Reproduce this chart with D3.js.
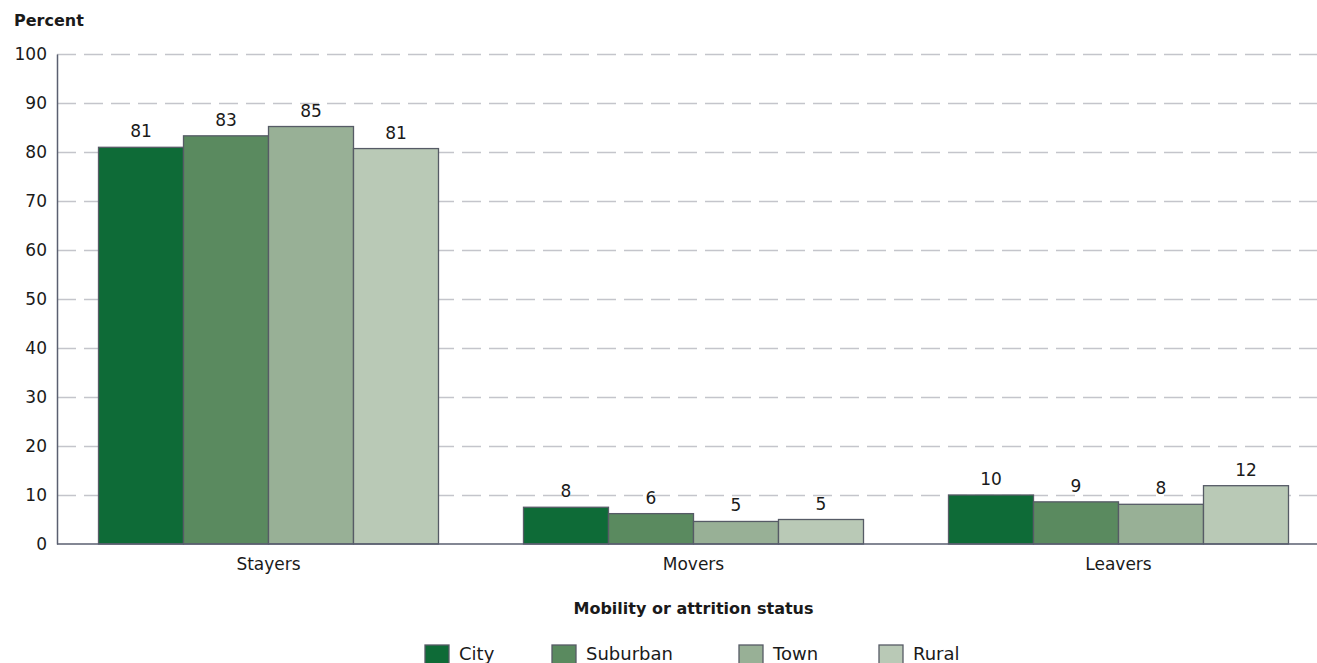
<!DOCTYPE html>
<html>
<head>
<meta charset="utf-8">
<script src="https://cdn.jsdelivr.net/npm/d3@7"></script>
<style>
  body { margin: 0; background: #fff; }
  svg text { font-family: "DejaVu Sans", "Noto Sans", sans-serif; fill: #1a1a1a; }
</style>
</head>
<body>
<div id="chart"></div>
<script>
// categories and series
const statuses = ["Stayers", "Movers", "Leavers"];
const locales = ["City", "Suburban", "Town", "Rural"];
const city = [80.96, 7.5, 10.0];
const suburban = [83.3, 6.2, 8.6];
const town = [85.2, 4.6, 8.1];
const rural = [80.7, 5.0, 11.9];
const labels = [[81, 83, 85, 81], [8, 6, 5, 5], [10, 9, 8, 12]];
const yTicks = [0, 10, 20, 30, 40, 50, 60, 70, 80, 90, 100];

const colors = ["#0e6b37", "#5a8a5f", "#98b096", "#b9c9b6"];
const seriesVals = [city, suburban, town, rural];

const svgWidth = 1317, svgHeight = 663;
const margin = { top: 54, left: 57, bottom: 119 };

const svg = d3.select("#chart").append("svg")
    .attr("width", svgWidth)
    .attr("height", svgHeight);

const x = d3.scaleBand()
    .domain(statuses)
    .range([margin.left - 1, margin.left - 1 + 425 * 3])
    .paddingInner(0.2)
    .paddingOuter(0.1);

const xInner = d3.scaleBand()
    .domain(locales)
    .range([0, x.bandwidth()]);

const y = d3.scaleLinear()
    .domain([0, 100])
    .range([svgHeight - margin.bottom, margin.top]);

// grid lines
svg.append("g")
    .selectAll("line")
    .data(yTicks.filter(d => d > 0))
    .join("line")
    .attr("x1", margin.left)
    .attr("x2", svgWidth)
    .attr("y1", d => Math.round(y(d)) + 0.5)
    .attr("y2", d => Math.round(y(d)) + 0.5)
    .attr("stroke", "#c4c5cb")
    .attr("stroke-width", 1.3)
    .attr("stroke-dasharray", "19,8");

// y axis
const yAxis = svg.append("g")
    .attr("transform", `translate(${margin.left},0)`)
    .call(d3.axisLeft(y).tickValues(yTicks).tickSize(0).tickPadding(10));
yAxis.select(".domain").attr("stroke", "#5a5f70").attr("stroke-width", 1.5);
yAxis.selectAll("text")
    .attr("font-size", 17)
    .attr("font-family", "DejaVu Sans, sans-serif")
    .attr("fill", "#1a1a1a");

// bars
const groups = svg.append("g")
    .selectAll("g")
    .data(statuses)
    .join("g")
    .attr("transform", d => `translate(${x(d)},0)`);

groups.selectAll("rect")
    .data((d, i) => locales.map((l, j) => ({ locale: l, value: seriesVals[j][i], label: labels[i][j], color: colors[j] })))
    .join("rect")
    .attr("x", d => xInner(d.locale))
    .attr("y", d => y(d.value))
    .attr("width", xInner.bandwidth())
    .attr("height", d => y(0) - y(d.value))
    .attr("fill", d => d.color)
    .attr("stroke", "#565b66")
    .attr("stroke-width", 1.3);

groups.selectAll("text.val")
    .data((d, i) => locales.map((l, j) => ({ locale: l, value: seriesVals[j][i], label: labels[i][j] })))
    .join("text")
    .attr("class", "val")
    .attr("x", d => xInner(d.locale) + xInner.bandwidth() / 2)
    .attr("y", d => y(d.value) - 10)
    .attr("text-anchor", "middle")
    .attr("font-size", 17)
    .text(d => d.label);

// baseline
svg.append("line")
    .attr("x1", margin.left)
    .attr("x2", svgWidth)
    .attr("y1", y(0))
    .attr("y2", y(0))
    .attr("stroke", "#5a5f70")
    .attr("stroke-width", 1.5);

// category labels
svg.append("g")
    .selectAll("text")
    .data(statuses)
    .join("text")
    .attr("x", d => x(d) + x.bandwidth() / 2)
    .attr("y", y(0) + 26)
    .attr("text-anchor", "middle")
    .attr("font-size", 17)
    .text(d => d);

// axis titles
svg.append("text")
    .attr("x", 14)
    .attr("y", 26)
    .attr("font-size", 16)
    .attr("font-weight", "bold")
    .text("Percent");

svg.append("text")
    .attr("x", x("Movers") + x.bandwidth() / 2)
    .attr("y", 614)
    .attr("text-anchor", "middle")
    .attr("font-size", 16)
    .attr("font-weight", "bold")
    .text("Mobility or attrition status");

// legend
const legendX = [425, 552, 739, 879];
const legend = svg.append("g")
    .selectAll("g")
    .data(locales)
    .join("g")
    .attr("transform", (d, i) => `translate(${legendX[i]},645)`);

legend.append("rect")
    .attr("width", 24)
    .attr("height", 20)
    .attr("fill", (d, i) => colors[i])
    .attr("stroke", "#565b66")
    .attr("stroke-width", 1.3);

legend.append("text")
    .attr("x", 34)
    .attr("y", 15)
    .attr("font-size", 18)
    .text(d => d);
</script>
</body>
</html>
